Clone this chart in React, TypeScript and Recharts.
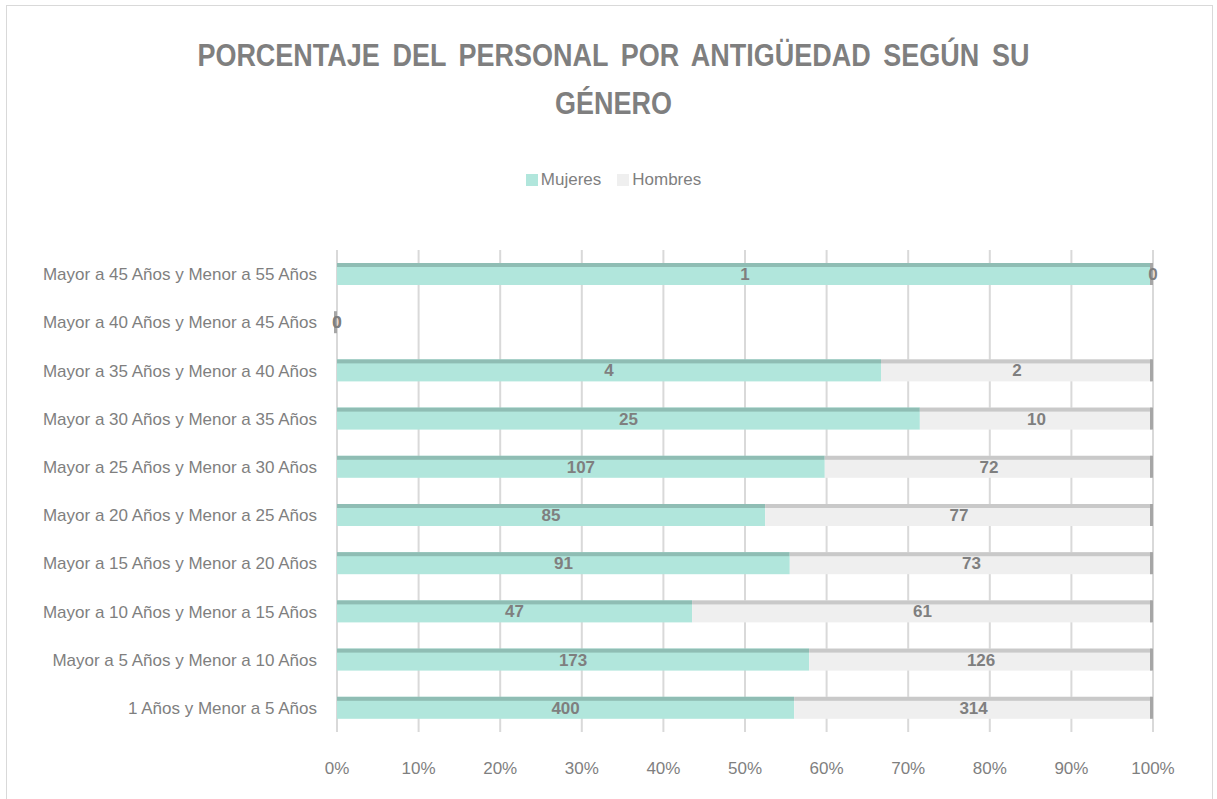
import { BarChart, Bar, XAxis, YAxis, CartesianGrid, Legend, LabelList } from 'recharts'

const categories = [
  'Mayor a 45 Años y Menor a 55 Años',
  'Mayor a 40 Años y Menor a 45 Años',
  'Mayor a 35 Años y Menor a 40 Años',
  'Mayor a 30 Años y Menor a 35 Años',
  'Mayor a 25 Años y Menor a 30 Años',
  'Mayor a 20 Años y Menor a 25 Años',
  'Mayor a 15 Años y Menor a 20 Años',
  'Mayor a 10 Años y Menor a 15 Años',
  'Mayor a 5 Años y Menor a 10 Años',
  '1 Años y Menor a 5 Años',
]
const mujeres = [1, 0, 4, 25, 107, 85, 91, 47, 173, 400]
const hombres = [0, 0, 2, 10, 72, 77, 73, 61, 126, 314]
const xTicks = [0, 0.1, 0.2, 0.3, 0.4, 0.5, 0.6, 0.7, 0.8, 0.9, 1]

const data = categories.map((name, i) => ({ name, Mujeres: mujeres[i], Hombres: hombres[i] }))

const FONT = "'Liberation Sans Narrow', 'Liberation Sans', Arial, sans-serif"
const GRAY = '#7f7f7f'
const seriesColors = [
  { name: 'Mujeres', color: '#b1e6dc' },
  { name: 'Hombres', color: '#efefef' },
]

function SegShape(props: any, fill: string, edge: string, cap: boolean) {
  const { x, y, width, height } = props
  if (![x, y, width, height].every((v) => Number.isFinite(v))) return <g />
  return (
    <g>
      {width > 0 && <rect x={x} y={y} width={width} height={height} fill={fill} />}
      {width > 0 && <rect x={x} y={y} width={width} height={4} fill={edge} />}
      {cap && <rect x={x + width - 3} y={y} width={3} height={height} fill="#a6a6a6" />}
    </g>
  )
}

function LegendContent() {
  return (
    <div style={{ display: 'flex', justifyContent: 'center', gap: 16, fontFamily: FONT, fontSize: 17, color: GRAY }}>
      {seriesColors.map((s) => (
        <span key={s.name} style={{ display: 'flex', alignItems: 'center', gap: 3 }}>
          <span style={{ display: 'inline-block', width: 12, height: 12, background: s.color }} />
          {s.name}
        </span>
      ))}
    </div>
  )
}

export default function App() {
  return (
    <div style={{ position: 'absolute', left: 0, top: 0, width: 1217, height: 799, background: '#fff', overflow: 'hidden' }}>
      <div style={{ position: 'absolute', left: 6, top: 5, width: 1205, height: 820, border: '1px solid #d9d9d9' }} />
      <div
        style={{
          position: 'absolute',
          left: 0,
          top: 32,
          width: 1227,
          textAlign: 'center',
          fontFamily: FONT,
          fontWeight: 'bold',
          fontSize: 31,
          lineHeight: '48px',
          color: GRAY,
          transform: 'scaleX(0.87)',
          transformOrigin: '613px 0',
          wordSpacing: 6,
        }}
      >
        PORCENTAJE DEL PERSONAL POR ANTIGÜEDAD SEGÚN SU
        <br />
        GÉNERO
      </div>
      <div style={{ position: 'absolute', left: 0, top: 0 }}>
        <BarChart
          width={1217}
          height={799}
          data={data}
          layout="vertical"
          stackOffset="expand"
          margin={{ top: 230, right: 64, bottom: 27, left: 0 }}
        >
          <CartesianGrid horizontal={false} stroke="#d9d9d9" strokeWidth={2} />
          <XAxis
            type="number"
            domain={[0, 1]}
            ticks={xTicks}
            tickFormatter={(v: number) => `${Math.round(v * 100)}%`}
            axisLine={false}
            tickLine={false}
            height={40}
            tickMargin={24}
            tick={{ fill: GRAY, fontSize: 17, fontFamily: FONT }}
          />
          <YAxis
            type="category"
            dataKey="name"
            width={337}
            axisLine={false}
            tickLine={false}
            tickMargin={14}
            tick={{ fill: GRAY, fontSize: 17, fontFamily: FONT }}
          />
          <Legend verticalAlign="top" align="center" content={LegendContent} wrapperStyle={{ top: 170, left: 10, width: 1207 }} />
          <Bar
            dataKey="Mujeres"
            stackId="a"
            fill="#b1e6dc"
            barSize={22}
            isAnimationActive={false}
            shape={(p: any) => SegShape(p, '#b1e6dc', '#8fbdb4', false)}
          >
            <LabelList dataKey="Mujeres" position="center" fill={GRAY} fontSize={17} fontWeight="bold" fontFamily={FONT} />
          </Bar>
          <Bar
            dataKey="Hombres"
            stackId="a"
            fill="#efefef"
            barSize={22}
            isAnimationActive={false}
            shape={(p: any) => SegShape(p, '#efefef', '#c9c9c9', true)}
          >
            <LabelList dataKey="Hombres" position="center" fill={GRAY} fontSize={17} fontWeight="bold" fontFamily={FONT} />
          </Bar>
        </BarChart>
      </div>
    </div>
  )
}
